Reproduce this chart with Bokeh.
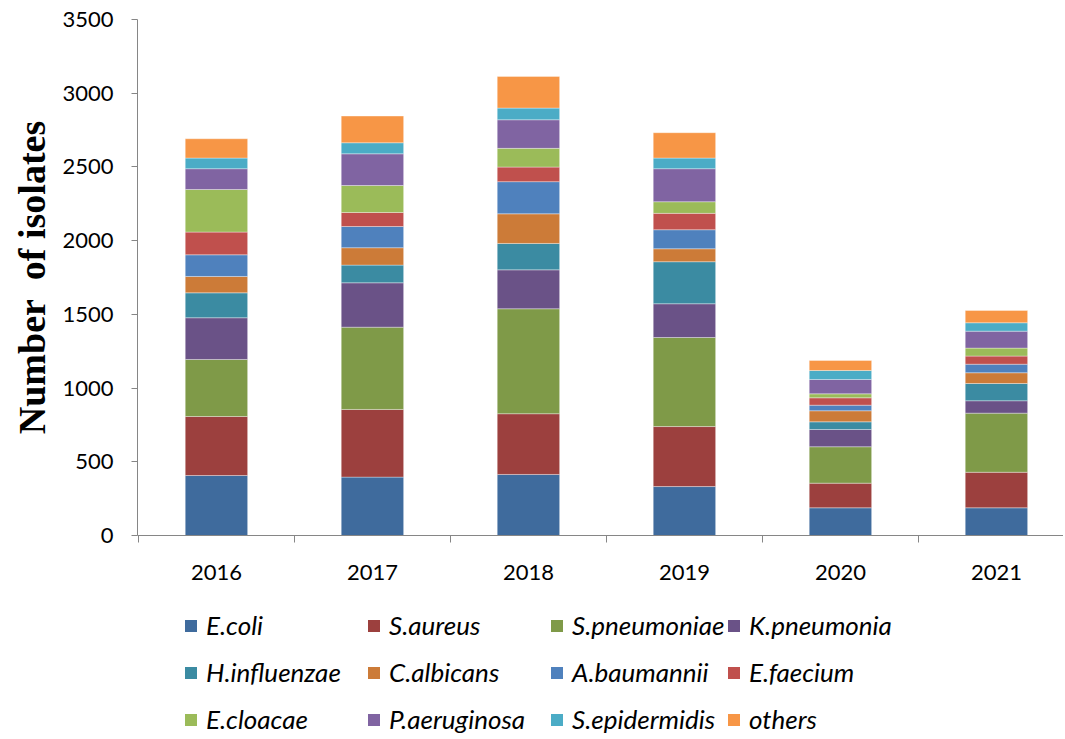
from bokeh.plotting import figure
from bokeh.models import ColumnDataSource, FixedTicker, Legend, LegendItem, Range1d
from bokeh.layouts import column
from bokeh.embed import file_html
from bokeh.resources import INLINE

years = ["2016", "2017", "2018", "2019", "2020", "2021"]
species = ["E.coli", "S.aureus", "S.pneumoniae", "K.pneumonia",
           "H.influenzae", "C.albicans", "A.baumannii", "E.faecium",
           "E.cloacae", "P.aeruginosa", "S.epidermidis", "others"]

e_coli = [407, 396, 414, 332, 188, 188]
s_aureus = [400, 459, 412, 407, 167, 241]
s_pneumoniae = [387, 558, 712, 604, 247, 401]
k_pneumonia = [283, 301, 264, 229, 117, 84]
h_influenzae = [169, 120, 179, 285, 52, 117]
c_albicans = [111, 118, 201, 88, 75, 73]
a_baumannii = [147, 144, 218, 129, 38, 58]
e_faecium = [154, 95, 99, 111, 50, 55]
e_cloacae = [289, 183, 127, 79, 27, 54]
p_aeruginosa = [141, 215, 194, 224, 97, 115]
s_epidermidis = [72, 75, 79, 72, 61, 57]
others = [131, 181, 215, 172, 68, 83]

series = [e_coli, s_aureus, s_pneumoniae, k_pneumonia, h_influenzae, c_albicans,
          a_baumannii, e_faecium, e_cloacae, p_aeruginosa, s_epidermidis, others]

colors = ["#3F6B9D", "#9C403E", "#7F9A48", "#6A5287", "#3B8BA2", "#CC7B38",
          "#4F81BD", "#C0504D", "#9BBB59", "#8064A2", "#4BACC6", "#F79646"]

xs = list(range(len(years)))
data = {"x": xs}
keys = []
for i, s in enumerate(series):
    k = "s%d" % i
    keys.append(k)
    data[k] = s
source = ColumnDataSource(data)

W = 1063
H1 = 590
H2 = 147
p = figure(width=W, height=H1, output_backend="svg", toolbar_location=None,
           x_range=Range1d(-0.506, -0.506 + (W - 137) / 156.0), y_range=Range1d(0, 3500),
           min_border_left=137, min_border_right=0, min_border_top=19,
           min_border_bottom=H1 - 535)
p.outline_line_color = None
p.xgrid.visible = False
p.ygrid.visible = False

renderers = p.vbar_stack(keys, x="x", width=0.4, source=source, color=colors,
                         line_color="white", line_alpha=0.35, line_width=1)

axis_color = "#868686"
font = "Lato"
p.yaxis.ticker = FixedTicker(ticks=[0, 500, 1000, 1500, 2000, 2500, 3000, 3500])
p.yaxis.axis_line_color = axis_color
p.yaxis.major_tick_line_color = axis_color
p.yaxis.major_tick_in = 0
p.yaxis.major_tick_out = 6
p.yaxis.minor_tick_line_color = None
p.yaxis.major_label_text_font = font
p.yaxis.major_label_text_font_size = "22px"
p.yaxis.major_label_text_color = "black"
p.yaxis.major_label_standoff = 18
p.yaxis.axis_label = "Number\u00a0 of isolates"
p.yaxis.axis_label_text_font = "Liberation Serif"
p.yaxis.axis_label_text_font_style = "bold"
p.yaxis.axis_label_text_font_size = "38px"
p.yaxis.axis_label_text_color = "black"
p.yaxis.axis_label_standoff = 6

p.xaxis.ticker = FixedTicker(ticks=xs, minor_ticks=[x - 0.5 for x in xs] + [xs[-1] + 0.5])
p.xaxis.major_label_overrides = {x: y for x, y in zip(xs, years)}
p.xaxis.axis_line_color = axis_color
p.xaxis.major_tick_line_color = None
p.xaxis.major_tick_in = 0
p.xaxis.major_tick_out = 0
p.xaxis.minor_tick_line_color = axis_color
p.xaxis.minor_tick_in = 0
p.xaxis.minor_tick_out = 7
p.xaxis.major_label_text_font = font
p.xaxis.major_label_text_font_size = "22px"
p.xaxis.major_label_text_color = "black"
p.xaxis.major_label_standoff = 22

# legend panel: a second figure whose single zero-height bar row lies off-view
legend_src = ColumnDataSource({"x": [-5], **{k: [0] for k in keys}})
p2 = figure(width=W, height=H2, output_backend="svg", toolbar_location=None,
            x_range=Range1d(0, 1), y_range=Range1d(0, 1),
            x_axis_location=None, y_axis_location=None,
            min_border_left=0, min_border_right=0,
            min_border_top=0, min_border_bottom=0)
p2.outline_line_color = None
p2.xgrid.visible = False
p2.ygrid.visible = False
leg_renderers = p2.vbar_stack(keys, x="x", width=0.4, source=legend_src, color=colors,
                              line_color=None)

col_x = [46, 229, 412, 589]
for c in range(4):
    idx = [c, c + 4, c + 8]
    items = [LegendItem(label=species[i], renderers=[leg_renderers[i]]) for i in idx]
    lg = Legend(items=items, orientation="vertical",
                location=(col_x[c], 2), glyph_width=15, glyph_height=15,
                label_standoff=8, spacing=15, padding=0, margin=0,
                label_text_font=font, label_text_font_style="italic",
                label_text_font_size="26px", label_height=32,
                label_text_color="black",
                border_line_color=None, background_fill_alpha=0)
    p2.add_layout(lg, "center")

layout = column(p, p2, spacing=0)
open("out.html", "w").write(file_html(layout, INLINE))
